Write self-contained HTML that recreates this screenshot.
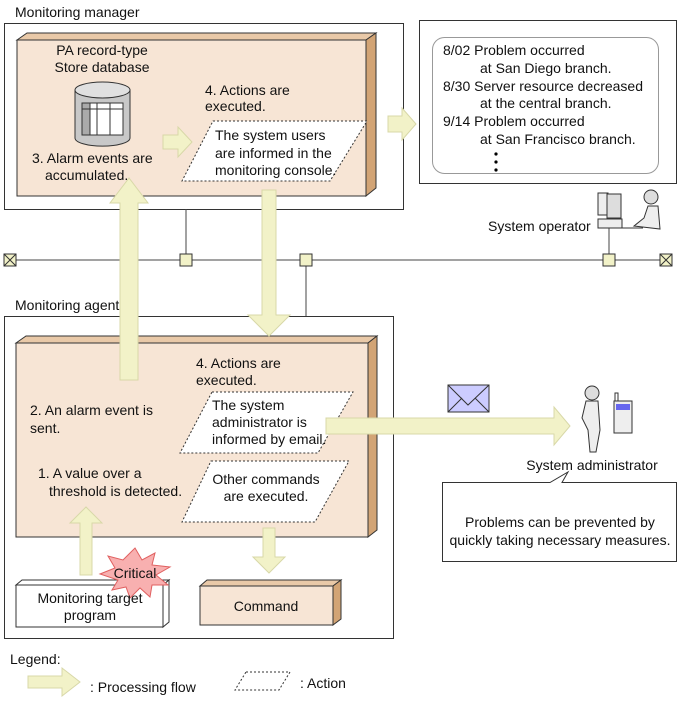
<!DOCTYPE html>
<html><head><style>body{margin:0;background:#fff}svg{display:block}text{font-family:"Liberation Sans",sans-serif;font-size:14px;fill:#111}</style></head><body>
<svg width="681" height="701" viewBox="0 0 681 701" xmlns="http://www.w3.org/2000/svg">
<text x="15" y="17">Monitoring manager</text>
<rect x="4.5" y="23.5" width="399" height="186" fill="#fff" stroke="#333"/>
<polygon points="17,40 27,33 376,33 366,40" fill="#e9c9a8" stroke="#333"/>
<polygon points="366,40 376,33 376,188 366,196" fill="#d2a475" stroke="#333"/>
<rect x="17" y="40" width="349" height="156" fill="#f7e5d5" stroke="#333"/>
<text x="102" y="55" text-anchor="middle">PA record-type</text>
<text x="102" y="72" text-anchor="middle">Store database</text>
<path d="M75,90 L75,138 A27,8 0 0 0 130,138 L130,90" fill="#c8c8c8" stroke="#333"/>
<ellipse cx="102.5" cy="90" rx="27.5" ry="8" fill="#e0e0e0" stroke="#333"/>
<rect x="82" y="103" width="41" height="32" fill="#fff" stroke="#333"/>
<rect x="82" y="103" width="8" height="32" fill="#aaa" stroke="#333"/>
<line x1="82" y1="109" x2="123" y2="109" stroke="#333"/><line x1="97" y1="103" x2="97" y2="135" stroke="#333"/><line x1="110" y1="103" x2="110" y2="135" stroke="#333"/>
<text x="32" y="163">3. Alarm events are</text>
<text x="45" y="180">accumulated.</text>
<polygon points="163,135 178,135 178,127 192,142 178,157 178,149 163,149" fill="#f2f2c8" stroke="#d8d8a8"/>
<text x="205" y="95">4. Actions are</text>
<text x="205" y="111">executed.</text>
<polygon points="213,121 367,121 330,181 182,181" fill="#fff" stroke="#333" stroke-dasharray="2,2"/>
<text x="215" y="140">The system users</text>
<text x="215" y="158">are informed in the</text>
<text x="215" y="175">monitoring console.</text>
<polygon points="388,116 402,116 402,108 416,124 402,140 402,132 388,132" fill="#f2f2c8" stroke="#d8d8a8"/>
<rect x="419.5" y="20.5" width="257" height="163" fill="#fff" stroke="#333"/>
<rect x="432.5" y="37.5" width="226" height="136" rx="12" fill="#fff" stroke="#999"/>
<text x="443" y="55">8/02  Problem occurred</text>
<text x="480" y="73">at San Diego branch.</text>
<text x="443" y="91">8/30  Server resource decreased</text>
<text x="480" y="108">at the central branch.</text>
<text x="443" y="126">9/14  Problem occurred</text>
<text x="480" y="144">at San Francisco branch.</text>
<circle cx="496" cy="154" r="1.6" fill="#000"/><circle cx="496" cy="162" r="1.6" fill="#000"/><circle cx="496" cy="170" r="1.6" fill="#000"/>
<text x="488" y="231">System operator</text>
<rect x="598" y="193" width="10" height="22" fill="#eee" stroke="#333"/>
<rect x="607" y="194" width="14" height="24" fill="#ddd" stroke="#333"/>
<rect x="598" y="219" width="24" height="9" fill="#eee" stroke="#333"/>
<line x1="622" y1="228" x2="643" y2="228" stroke="#333"/>
<circle cx="651" cy="197" r="7" fill="#ddd" stroke="#333"/>
<path d="M634,226 L644,218 L648,206 L658,206 L660,229 Z" fill="#eee" stroke="#333"/>
<line x1="10" y1="260" x2="666" y2="260" stroke="#444"/>
<line x1="186" y1="209" x2="186" y2="260" stroke="#444"/>
<line x1="306" y1="260" x2="306" y2="316" stroke="#444"/>
<line x1="609" y1="228" x2="609" y2="260" stroke="#444"/>
<rect x="4" y="254" width="12" height="12" fill="#f2f2c8" stroke="#333"/><path d="M4,254 L16,266 M16,254 L4,266" stroke="#333"/>
<rect x="660" y="254" width="12" height="12" fill="#f2f2c8" stroke="#333"/><path d="M660,254 L672,266 M672,254 L660,266" stroke="#333"/>
<rect x="180" y="254" width="12" height="12" fill="#f2f2c8" stroke="#333"/>
<rect x="300" y="254" width="12" height="12" fill="#f2f2c8" stroke="#333"/>
<rect x="603" y="254" width="12" height="12" fill="#f2f2c8" stroke="#333"/>
<text x="15" y="310">Monitoring agent</text>
<rect x="4.5" y="316.5" width="389" height="322" fill="#fff" stroke="#333"/>
<polygon points="16,343 26,336 377,336 368,343" fill="#e9c9a8" stroke="#333"/>
<polygon points="368,343 377,336 377,530 368,537" fill="#d2a475" stroke="#333"/>
<rect x="16" y="343" width="352" height="194" fill="#f7e5d5" stroke="#333"/>
<polygon points="120,380 138,380 138,203 148,203 129,178 110,203 120,203" fill="#f2f2c8" stroke="#d8d8a8"/>
<polygon points="262,190 276,190 276,315 290,315 269,336 248,315 262,315" fill="#f2f2c8" stroke="#d8d8a8"/>
<text x="196" y="368">4. Actions are</text>
<text x="196" y="385">executed.</text>
<text x="30" y="415">2. An alarm event is</text>
<text x="30" y="433">sent.</text>
<text x="38" y="478">1. A value over a</text>
<text x="49" y="496">threshold is detected.</text>
<polygon points="212,392 353,392 318,453 180,453" fill="#fff" stroke="#333" stroke-dasharray="2,2"/>
<text x="212" y="410">The system</text>
<text x="212" y="427">administrator is</text>
<text x="212" y="444">informed by email.</text>
<polygon points="211,461 349,461 315,522 182,522" fill="#fff" stroke="#333" stroke-dasharray="2,2"/>
<text x="266" y="484" text-anchor="middle">Other commands</text>
<text x="266" y="501" text-anchor="middle">are executed.</text>
<polygon points="80,575 92,575 92,523 102,523 86,507 70,523 80,523" fill="#f2f2c8" stroke="#d8d8a8"/>
<polygon points="263,528 275,528 275,557 285,557 269,573 253,557 263,557" fill="#f2f2c8" stroke="#d8d8a8"/>
<polygon points="16,585 22,580 169,580 163,585" fill="#fff" stroke="#333"/>
<polygon points="163,585 169,580 169,622 163,627" fill="#fff" stroke="#333"/>
<rect x="16" y="585" width="147" height="42" fill="#fff" stroke="#333"/>
<polygon points="135,548 142,560 155,553 152,565 170,567 156,575 168,585 152,585 150,597 140,588 130,598 126,587 112,590 118,580 100,574 115,568 108,556 123,560" fill="#f8b0b0" stroke="#e06060"/>
<text x="135" y="578" text-anchor="middle">Critical</text>
<text x="90" y="603" text-anchor="middle">Monitoring target</text>
<text x="90" y="620" text-anchor="middle">program</text>
<polygon points="200,586 207,580 341,580 333,586" fill="#e9c9a8" stroke="#333"/>
<polygon points="333,586 341,580 341,619 333,625" fill="#d2a475" stroke="#333"/>
<rect x="200" y="586" width="133" height="39" fill="#f7e5d5" stroke="#333"/>
<text x="266" y="611" text-anchor="middle">Command</text>
<polygon points="326,418 554,418 554,407 570,426 554,445 554,434 326,434" fill="#f2f2c8" stroke="#d8d8a8"/>
<rect x="448" y="385" width="41" height="27" fill="#ccccff" stroke="#333"/>
<path d="M448,385 L468,405 L489,385" fill="none" stroke="#333"/>
<path d="M448,412 L462,398 M489,412 L475,398" stroke="#333"/>
<circle cx="592" cy="393" r="7" fill="#ddd" stroke="#333"/>
<path d="M586,401 L598,401 L600,430 L596,452 L590,452 L588,430 L582,418 Z" fill="#eee" stroke="#333"/>
<rect x="614" y="401" width="18" height="32" fill="#eee" stroke="#333"/>
<rect x="616" y="404" width="14" height="6" fill="#6666ee"/>
<rect x="615" y="393" width="3" height="8" fill="#fff" stroke="#333"/>
<text x="592" y="470" text-anchor="middle">System administrator</text>
<path d="M442.5,482.5 L550,482.5 L568,472 L562,482.5 L676.5,482.5 L676.5,561.5 L442.5,561.5 Z" fill="#fff" stroke="#333"/>
<text x="560" y="527" text-anchor="middle">Problems can be prevented by</text>
<text x="560" y="545" text-anchor="middle">quickly taking necessary measures.</text>
<text x="10" y="664">Legend:</text>
<polygon points="28,676 62,676 62,668 80,682 62,696 62,688 28,688" fill="#f2f2c8" stroke="#d8d8a8"/>
<text x="90" y="692">: Processing flow</text>
<polygon points="246,672 290,672 279,690 235,690" fill="#fff" stroke="#333" stroke-dasharray="2,2"/>
<text x="300" y="688">: Action</text>
</svg>
</body></html>
